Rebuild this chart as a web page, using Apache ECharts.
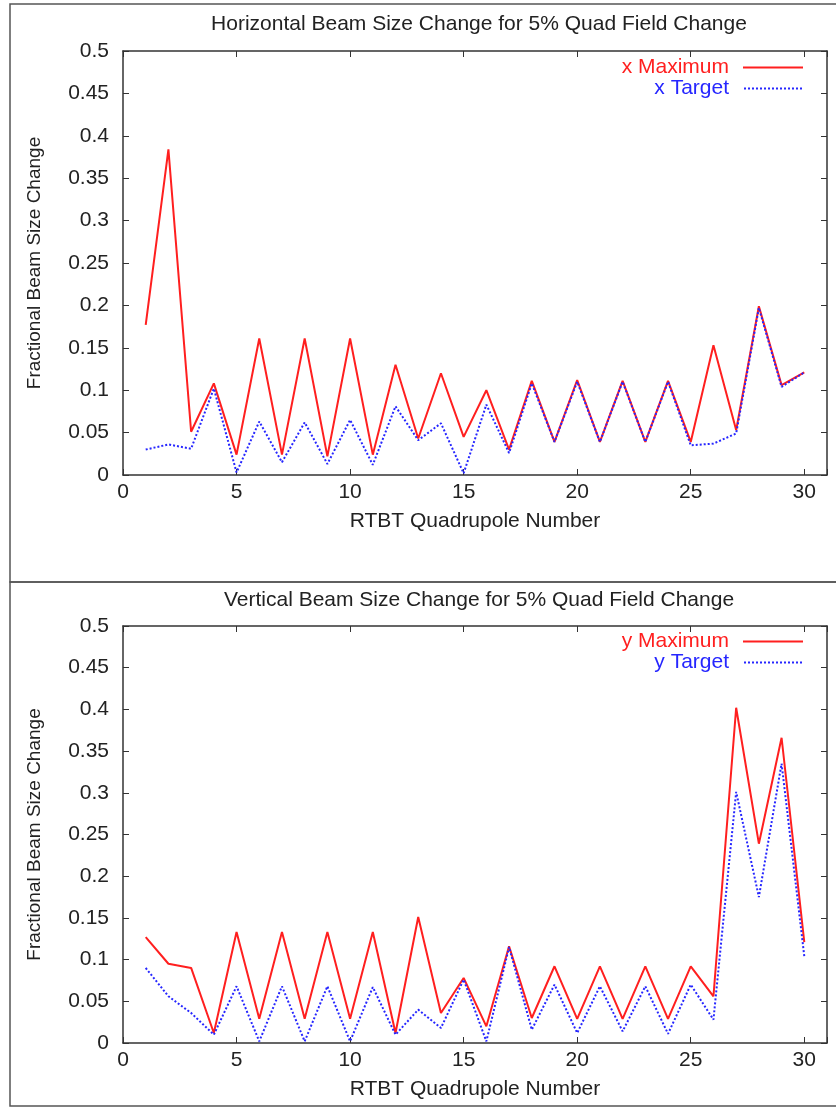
<!DOCTYPE html>
<html>
<head>
<meta charset="utf-8">
<script src="https://cdn.jsdelivr.net/npm/echarts@6/dist/echarts.min.js"></script>
<style>
  html, body { margin: 0; padding: 0; background: #fff; }
  #chart { width: 836px; height: 1108px; }
</style>
</head>
<body>
<div id="chart"></div>
<script>
// quadrupole numbers (x axis)
const quads = [1, 2, 3, 4, 5, 6, 7, 8, 9, 10, 11, 12, 13, 14, 15, 16, 17, 18, 19, 20, 21, 22, 23, 24, 25, 26, 27, 28, 29, 30]

// horizontal plane
const xMaximum = [0.177, 0.384, 0.051, 0.108, 0.024, 0.161, 0.024, 0.161, 0.022, 0.161, 0.024, 0.130, 0.043, 0.120, 0.045,
  0.100, 0.030, 0.111, 0.039, 0.112, 0.039, 0.111, 0.039, 0.111, 0.039, 0.153, 0.053, 0.199, 0.106, 0.121]
const xTarget = [0.030, 0.036, 0.031, 0.102, 0.003, 0.063, 0.015, 0.062, 0.013, 0.065, 0.012, 0.081, 0.041, 0.061, 0.002,
  0.083, 0.026, 0.108, 0.039, 0.110, 0.039, 0.110, 0.039, 0.110, 0.035, 0.037, 0.049, 0.197, 0.104, 0.121]

// vertical plane
const yMaximum = [0.127, 0.095, 0.090, 0.012, 0.133, 0.029, 0.133, 0.029, 0.133, 0.029, 0.133, 0.012, 0.151, 0.036, 0.078,
  0.020, 0.116, 0.030, 0.092, 0.029, 0.092, 0.029, 0.092, 0.029, 0.092, 0.056, 0.402, 0.239, 0.366, 0.121]
const yTarget = [0.090, 0.056, 0.036, 0.010, 0.068, 0.002, 0.068, 0.002, 0.068, 0.002, 0.067, 0.010, 0.040, 0.018, 0.076,
  0.002, 0.115, 0.016, 0.070, 0.012, 0.068, 0.014, 0.068, 0.011, 0.070, 0.028, 0.301, 0.175, 0.335, 0.104]

const titles = ['Horizontal Beam Size Change for 5% Quad Field Change', 'Vertical Beam Size Change for 5% Quad Field Change']
const xName = 'RTBT Quadrupole Number'
const yName = 'Fractional Beam Size Change'

const FONT = 'Liberation Sans'
const RED = '#ff1f1f'
const BLUE = '#2626ff'
const AXIS = '#333'

const toPairs = (vals) => quads.map((q, i) => [q, vals[i]])

// legend keys: a solid bar and a row of small dots
const SOLID_ICON = 'path://M0,0H60V2H0Z'
let dots = ''
for (let k = 0; k < 60; k += 4) dots += 'M' + k + ',0h2v2h-2z'
const DOTTED_ICON = 'path://' + dots

const grids = [
  { left: 123, right: 9, top: 51, height: 424 },
  { left: 123, right: 9, top: 626, height: 417 },
]

// gnuplot like frame: ticks inside on all four sides
const frameLine = { show: true, onZero: false, lineStyle: { color: AXIS, width: 1.5 } }
const innerTick = { show: true, inside: true, length: 6, lineStyle: { color: AXIS } }

const xAxes = []
const yAxes = []
grids.forEach((g, i) => {
  // bottom axis with labels
  xAxes.push({
    gridIndex: i, type: 'value', min: 0, max: 31, interval: 5, position: 'bottom',
    name: xName, nameLocation: 'middle', nameGap: 36,
    nameTextStyle: { fontFamily: FONT, fontSize: 21, color: '#222' },
    axisLine: frameLine,
    axisTick: innerTick,
    axisLabel: {
      fontFamily: FONT, fontSize: 21, color: '#222', margin: 7,
      formatter: (v) => (v % 5 === 0 ? String(v) : ''),
    },
    splitLine: { show: false },
  })
  // mirrored top axis, ticks only
  xAxes.push({
    gridIndex: i, type: 'value', min: 0, max: 31, interval: 5, position: 'top',
    axisLine: frameLine,
    axisTick: innerTick,
    axisLabel: { show: false },
    splitLine: { show: false },
  })
  yAxes.push({
    gridIndex: i, type: 'value', min: 0, max: 0.5, interval: 0.05, position: 'left',
    name: yName, nameLocation: 'middle', nameGap: 79,
    nameTextStyle: { fontFamily: FONT, fontSize: 19, color: '#222' },
    axisLine: frameLine,
    axisTick: innerTick,
    axisLabel: { fontFamily: FONT, fontSize: 21, color: '#222', margin: 14 },
    splitLine: { show: false },
  })
  yAxes.push({
    gridIndex: i, type: 'value', min: 0, max: 0.5, interval: 0.05, position: 'right',
    axisLine: frameLine,
    axisTick: innerTick,
    axisLabel: { show: false },
    splitLine: { show: false },
  })
})

const lineSeries = (name, vals, gi, color, dotted) => ({
  name: name,
  type: 'line',
  xAxisIndex: gi * 2,
  yAxisIndex: gi * 2,
  data: toPairs(vals),
  symbol: 'none',
  animation: false,
  lineStyle: { color: color, width: 2, type: dotted ? [2, 2] : 'solid' },
  itemStyle: { color: color },
})

const legendFor = (names, top) => ({
  orient: 'vertical', right: 33, top: top, align: 'right', padding: 0,
  itemWidth: 60, itemHeight: 2, itemGap: 0,
  data: [
    { name: names[0], icon: SOLID_ICON, textStyle: { color: RED } },
    { name: names[1], icon: DOTTED_ICON, textStyle: { color: BLUE } },
  ],
  textStyle: { fontFamily: FONT, fontSize: 21, padding: [0, 9, 0, 0] },
})

const chart = echarts.init(document.getElementById('chart'), null, { renderer: 'canvas' })
chart.setOption({
  backgroundColor: '#fff',
  animation: false,
  title: [
    { text: titles[0], left: 474, top: 9, textAlign: 'center',
      textStyle: { fontFamily: FONT, fontSize: 21, fontWeight: 'normal', color: '#222' } },
    { text: titles[1], left: 474, top: 585, textAlign: 'center',
      textStyle: { fontFamily: FONT, fontSize: 21, fontWeight: 'normal', color: '#222' } },
  ],
  graphic: [
    { type: 'rect', shape: { x: 10, y: 4, width: 840, height: 578 }, style: { fill: null, stroke: '#555', lineWidth: 1.5 }, silent: true },
    { type: 'rect', shape: { x: 10, y: 582, width: 840, height: 524 }, style: { fill: null, stroke: '#555', lineWidth: 1.5 }, silent: true },
  ],
  legend: [
    legendFor(['x Maximum', 'x Target'], 57),
    legendFor(['y Maximum', 'y Target'], 631),
  ],
  grid: grids,
  xAxis: xAxes,
  yAxis: yAxes,
  series: [
    lineSeries('x Maximum', xMaximum, 0, RED, false),
    lineSeries('x Target', xTarget, 0, BLUE, true),
    lineSeries('y Maximum', yMaximum, 1, RED, false),
    lineSeries('y Target', yTarget, 1, BLUE, true),
  ],
})
</script>
</body>
</html>
